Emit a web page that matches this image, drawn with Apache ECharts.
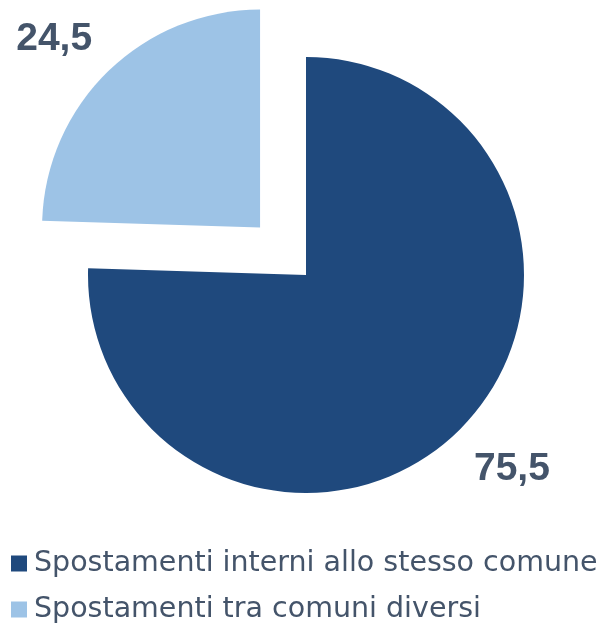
<!DOCTYPE html>
<html>
<head>
<meta charset="utf-8">
<script src="https://cdn.jsdelivr.net/npm/echarts@6/dist/echarts.min.js"></script>
<style>
  html, body { margin: 0; padding: 0; background: #fff; }
  #chart { width: 601px; height: 627px; }
</style>
</head>
<body>
<div id="chart"></div>
<script>
const categories = ['Spostamenti interni allo stesso comune', 'Spostamenti tra comuni diversi']
const values = [75.5, 24.5]
const colors = ['#1f497d', '#9dc3e6']

const chart = echarts.init(document.getElementById('chart'))

chart.setOption({
  backgroundColor: '#fff',
  animation: false,
  legend: {
    orient: 'vertical',
    left: 6,
    top: 544,
    height: 120,
    itemWidth: 16,
    itemHeight: 16,
    itemGap: 17,
    icon: 'rect',
    selectedMode: false,
    textStyle: {
      color: '#44546a',
      fontSize: 28.5,
      fontFamily: 'DejaVu Sans',
      padding: [0, 0, 0, 2]
    },
    data: categories
  },
  series: [{
    type: 'pie',
    center: [306, 275],
    radius: 218,
    startAngle: 90,
    clockwise: true,
    selectedMode: 'multiple',
    selectedOffset: 66,
    label: {
      show: true,
      position: 'outside',
      color: '#44546a',
      fontSize: 39,
      fontWeight: 'bold',
      fontFamily: 'Liberation Sans',
      formatter: p => String(p.value).replace('.', ',')
    },
    labelLine: { show: false, length: 52, length2: 13 },
    // centre each label on its anchor point
    labelLayout: p => ({
      dx: p.align === 'left' ? -p.labelRect.width / 2 : p.labelRect.width / 2,
      dy: p.align === 'left' ? 0 : 6
    }),
    emphasis: { disabled: true },
    data: categories.map((c, i) => ({
      name: c,
      value: values[i],
      selected: i === 1,
      itemStyle: { color: colors[i] }
    }))
  }]
})
</script>
</body>
</html>
